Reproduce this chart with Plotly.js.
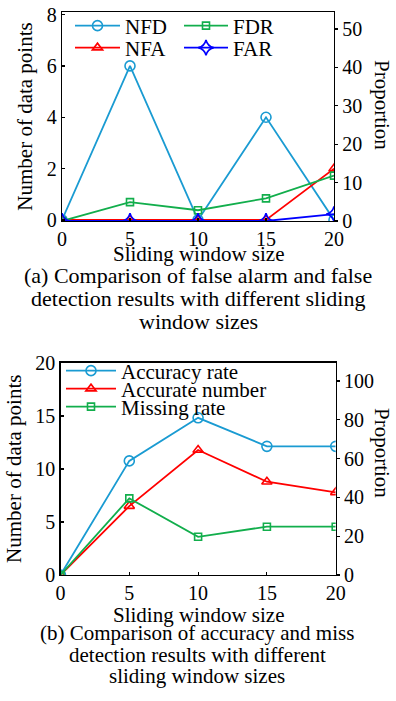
<!DOCTYPE html>
<html>
<head>
<meta charset="utf-8">
<script src="https://cdn.plot.ly/plotly-3.0.1.min.js"></script>
<style>html,body{margin:0;padding:0;background:#fff}#chart{width:396px;height:701px}</style>
</head>
<body>
<div id="chart"></div>
<script>
// ---- data ----
const windowSize = [0, 5, 10, 15, 20];
// (a) false alarm / false detection
const NFD = [0, 6, 0, 4, 0];          // number (left axis)
const NFA = [0, 0, 0, 0, 2];          // number (left axis)
const FDR = [0, 4.9, 2.8, 5.9, 11.8]; // proportion (right axis)
const FAR = [0, 0, 0, 0, 1.8];        // proportion (right axis)
// (b) accuracy / miss detection
const accuracyRate = [0, 58.8, 81.0, 66.3, 66.3];   // proportion (right axis)
const accurateNumber = [0, 6.5, 11.8, 8.8, 7.8];    // number (left axis)
const missingRate = [0, 39.5, 19.7, 24.9, 24.9];    // proportion (right axis)

const xTicks = [0, 5, 10, 15, 20];
const leftTicksA = [0, 2, 4, 6, 8];
const rightTicksA = [0, 10, 20, 30, 40, 50];
const leftTicksB = [0, 5, 10, 15, 20];
const rightTicksB = [0, 20, 40, 60, 80, 100];

const captionA = ["(a) Comparison of false alarm and false", "detection results with different sliding", "window sizes"];
const captionB = ["(b) Comparison of accuracy and miss", "detection results with different", "sliding window sizes"];

// ---- style ----
const W = 396, H = 701;
const FONT = "'Liberation Serif', 'Times New Roman', serif";
const cBlue = "#1a9bd2", cRed = "#ff0000", cGreen = "#12ae4c", cDark = "#0000ff";
const py = p => 1 - p / H;
const px = p => p / W;

function tr(x, y, name, color, symbol, size, xa, ya, legend) {
  return {
    x: x, y: y, name: name, type: "scatter", mode: "lines+markers",
    xaxis: xa, yaxis: ya, legend: legend,
    line: {color: color, width: 1.8},
    marker: {symbol: symbol, size: size, color: color, line: {color: color, width: 1.6}},
    hoverinfo: "skip"
  };
}

const data = [
  tr(windowSize, NFD, "NFD", cBlue, "circle-open", 10, "x", "y", "legend"),
  tr(windowSize, NFA, "NFA", cRed, "triangle-up-open", 9, "x", "y", "legend2"),
  tr(windowSize, FDR, "FDR", cGreen, "square-open", 7, "x", "y2", "legend3"),
  tr(windowSize, FAR, "FAR", cDark, "star-diamond-open", 11, "x", "y2", "legend4"),
  tr(windowSize, accurateNumber, "Accurate number", cRed, "triangle-up-open", 9, "x2", "y3", "legend6"),
  tr(windowSize, accuracyRate, "Accuracy rate", cBlue, "circle-open", 10, "x2", "y4", "legend5"),
  tr(windowSize, missingRate, "Missing rate", cGreen, "square-open", 7, "x2", "y4", "legend7")
];

const tickFont = {family: FONT, size: 20, color: "#000"};
const axBase = {showline: true, linecolor: "#000", linewidth: 1.3, showgrid: false, zeroline: false,
  tickfont: tickFont, tickcolor: "#000", ticklen: 3, tickwidth: 1.2, fixedrange: true};

function leg(x, y, iw) {
  return {x: x, y: y, xref: "paper", yref: "paper", xanchor: "left", yanchor: "middle",
    bgcolor: "rgba(0,0,0,0)", borderwidth: 0, itemwidth: iw,
    font: {family: FONT, size: 21, color: "#000"}, tracegroupgap: 0, itemclick: false, itemdoubleclick: false};
}

const annFont = {family: FONT, size: 21, color: "#000"};
const capFontA = {family: FONT, size: 22, color: "#000"};
const annotations = [];
function ann(text, x, y, angle, font) {
  annotations.push({text: text, x: x, y: y, xref: "paper", yref: "paper", xanchor: "center", yanchor: "middle",
    showarrow: false, font: font || annFont, textangle: angle || 0});
}
ann("Sliding window size", px(199), py(254));
ann("Sliding window size", px(199), py(615));
ann("Proportion", px(382), py(105), 90);
ann("Proportion", px(382), py(453), 90);
captionA.forEach((t, i) => ann(t, px(198), py(276 + i * 22.5), 0, capFontA));
captionB.forEach((t, i) => ann(t, px(197), py(633 + i * 21.5)));

const layout = {
  width: W, height: H, margin: {l: 0, r: 0, t: 0, b: 0},
  paper_bgcolor: "#fff", plot_bgcolor: "rgba(0,0,0,0)",
  font: {family: FONT, size: 20, color: "#000"},
  xaxis: Object.assign({}, axBase, {domain: [px(62), px(334)], range: [0, 20], tickvals: xTicks,
    ticks: "inside", mirror: true, anchor: "y"}),
  yaxis: Object.assign({}, axBase, {domain: [py(221), py(12)], range: [-0.04, 8.1], tickvals: leftTicksA,
    ticks: "inside", anchor: "x",
    title: {text: "Number of data points", font: annFont, standoff: 8}}),
  yaxis2: Object.assign({}, axBase, {overlaying: "y", side: "right", anchor: "x", range: [0, 54.4],
    tickvals: rightTicksA, ticks: "outside"}),
  xaxis2: Object.assign({}, axBase, {domain: [px(60.5), px(335.7)], range: [0, 20], tickvals: xTicks,
    ticks: "inside", mirror: true, anchor: "y3"}),
  yaxis3: Object.assign({}, axBase, {domain: [py(575), py(362.5)], range: [0, 20.05], tickvals: leftTicksB,
    ticks: "inside", anchor: "x2",
    title: {text: "Number of data points", font: annFont, standoff: 8}}),
  yaxis4: Object.assign({}, axBase, {overlaying: "y3", side: "right", anchor: "x2", range: [0, 109.5],
    tickvals: rightTicksB, ticks: "outside"}),
  legend: leg(px(70), py(26), 45),
  legend2: leg(px(70), py(48), 45),
  legend3: leg(px(179), py(26), 44),
  legend4: leg(px(179), py(48), 44),
  legend5: leg(px(61), py(371), 50),
  legend6: leg(px(61), py(389), 50),
  legend7: leg(px(61), py(407), 50),
  annotations: annotations,
  showlegend: true
};

Plotly.newPlot("chart", data, layout, {displayModeBar: false, staticPlot: true});
</script>
</body>
</html>
